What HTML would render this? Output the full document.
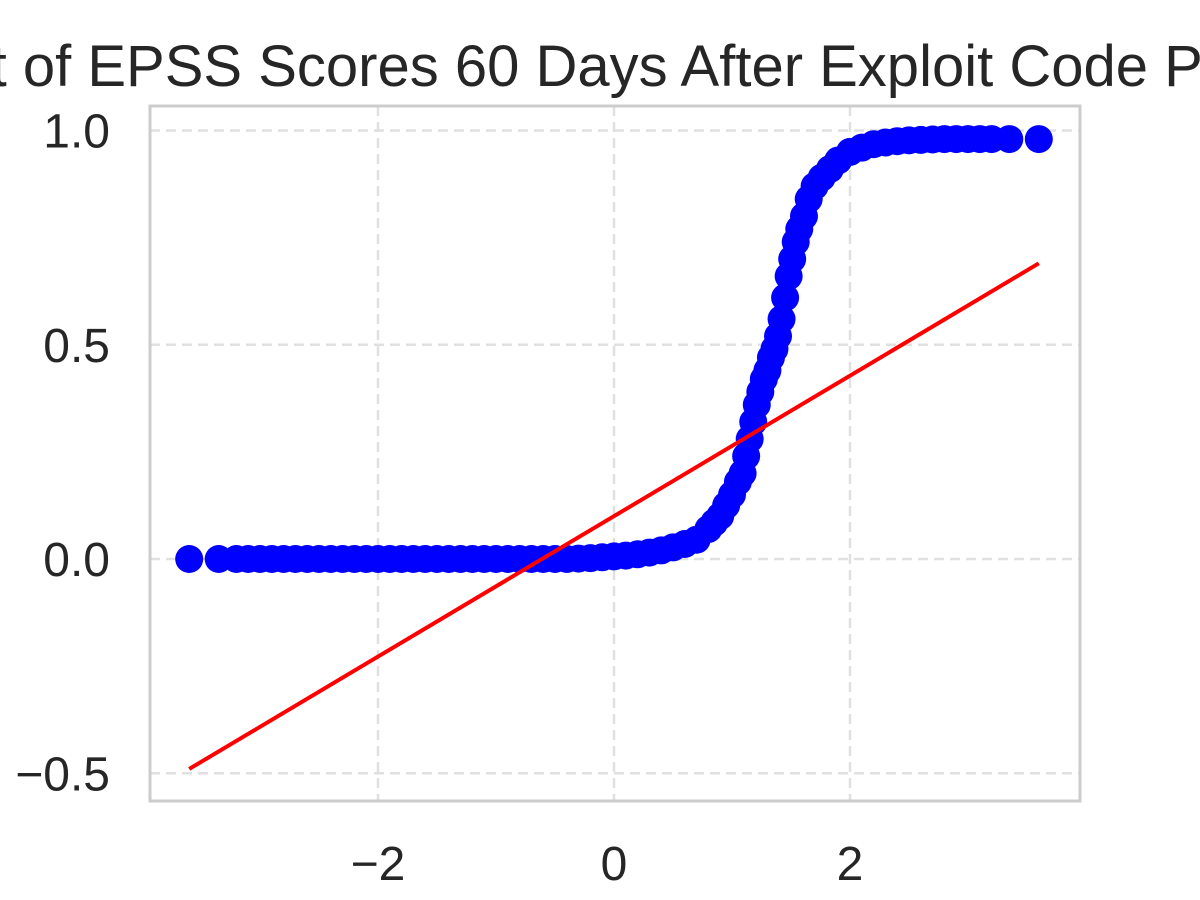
<!DOCTYPE html>
<html><head><meta charset="utf-8"><style>
html,body{margin:0;padding:0;background:#fff;width:1200px;height:900px;overflow:hidden}
svg text{font-family:"Liberation Sans","DejaVu Sans",sans-serif;fill:#262626}
</style></head><body>
<svg id="chart" width="1200" height="900">
<text x="600" y="86" font-size="58" text-anchor="middle">Q-Q Plot of EPSS Scores 60 Days After Exploit Code Published</text>
<g id="grid"></g><g id="marks"></g><g id="axes"></g>
</svg>
<script>
const xTicks=[-2,0,2];
const yTicks=[-0.5,0.0,0.5,1.0];
const yTickLabels=["\u22120.5","0.0","0.5","1.0"];
const xTickLabels=["\u22122","0","2"];
const theoretical=[-3.6,-3.35,-3.2,-3.1,-3.0,-2.9,-2.8,-2.7,-2.6,-2.5,-2.4,-2.3,-2.2,-2.1,-2.0,-1.9,-1.8,-1.7,-1.6,-1.5,-1.4,-1.3,-1.2,-1.1,-1.0,-0.9,-0.8,-0.7,-0.6,-0.5,-0.4,-0.3,-0.2,-0.1,0,0.1,0.2,0.3,0.4,0.5,0.6,0.7,0.8,0.85,0.9,0.95,1.0,1.05,1.09,1.12,1.15,1.18,1.21,1.24,1.27,1.3,1.33,1.36,1.39,1.42,1.45,1.48,1.51,1.54,1.57,1.61,1.65,1.7,1.76,1.83,1.9,2.0,2.1,2.2,2.3,2.4,2.5,2.6,2.7,2.8,2.9,3.0,3.1,3.2,3.35,3.6];
const sample=[0,0,0,0,0,0,0,0,0,0,0,0,0,0,0,0,0,0,0,0,0,0,0,0,0,0,0,0,0,0,0,0.001,0.002,0.004,0.006,0.008,0.011,0.015,0.02,0.027,0.035,0.045,0.07,0.085,0.1,0.125,0.15,0.18,0.2,0.24,0.28,0.32,0.36,0.39,0.42,0.44,0.47,0.49,0.52,0.56,0.61,0.66,0.7,0.74,0.77,0.8,0.84,0.87,0.89,0.91,0.93,0.95,0.96,0.968,0.972,0.975,0.977,0.978,0.979,0.98,0.98,0.98,0.98,0.98,0.98,0.98];
const fitX=[-3.6,3.6];
const fitY=[-0.49,0.69];
const X0=150,X1=1080,Y0=106,Y1=801;
const sx=v=>614+v*118;
const sy=v=>559-v*428.5;
const NS="http://www.w3.org/2000/svg";
function mk(tag,attrs,parent){const e=document.createElementNS(NS,tag);for(const k in attrs)e.setAttribute(k,attrs[k]);parent.appendChild(e);return e;}
const grid=document.getElementById('grid'),marks=document.getElementById('marks'),axes=document.getElementById('axes');
xTicks.forEach((t,i)=>{
 const l=mk('line',{x1:sx(t),x2:sx(t),y1:Y0,y2:Y1,stroke:'#e0e0e0','stroke-width':2.5,'stroke-dasharray':'10,6'},grid);
 
 
 const tx=mk('text',{x:sx(t),y:880,'font-size':48,'text-anchor':'middle'},axes);tx.textContent=xTickLabels[i];
 
 
});
yTicks.forEach((t,i)=>{
 const l=mk('line',{x1:X0,x2:X1,y1:sy(t),y2:sy(t),stroke:'#e0e0e0','stroke-width':2.5,'stroke-dasharray':'10,6'},grid);
 
 
 const tx=mk('text',{x:110,y:sy(t)+17,'font-size':48,'text-anchor':'end'},axes);tx.textContent=yTickLabels[i];
 
 
});
theoretical.forEach((v,i)=>{
 const c=mk('circle',{cx:sx(v),cy:sy(sample[i]),r:14,fill:'#0000ff'},marks);
 
 
});
const fl=mk('line',{x1:sx(fitX[0]),y1:sy(fitY[0]),x2:sx(fitX[1]),y2:sy(fitY[1]),stroke:'#ff0000','stroke-width':4},marks);


const fr=mk('rect',{x:X0,y:Y0,width:X1-X0,height:Y1-Y0,fill:'none',stroke:'#cccccc','stroke-width':3},axes);


</script>
</body></html>
